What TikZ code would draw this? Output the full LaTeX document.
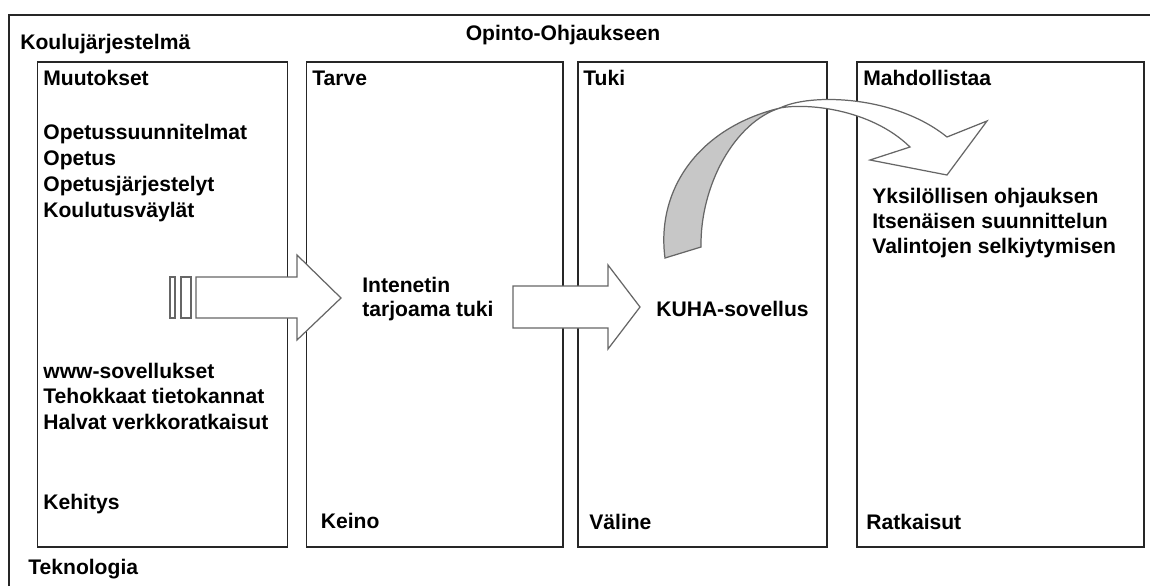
\documentclass[tikz,border=0pt]{standalone}
\usepackage{fontspec}
\setmainfont{Liberation Sans}
\begin{document}
\begin{tikzpicture}[x=0.02cm, y=-0.02cm,
  box/.style={draw=black!85, line width=0.8pt},
  txt/.style={font=\bfseries\fontsize{12}{14}\selectfont, anchor=base west, inner sep=0pt},
  blockarrow/.style={draw=black!60, line width=0.7pt, fill=white, line join=miter}]
  \useasboundingbox (0,0) rectangle (1150,586);

  % frame and columns
  \draw[box] (9,586) -- (9,15) -- (1150,15);
  \draw[box] (37.5,62) rectangle (287.5,547);
  \draw[box] (306.5,62) rectangle (563,547);
  \draw[box] (578,62) rectangle (827,547);
  \draw[box] (857,62) rectangle (1144,547);

  % frame labels
  \node[txt, anchor=base] (title) at (563,40) {Opinto-Ohjaukseen};
  \node[txt] (koulu) at (20,49) {Koulujärjestelmä};
  \node[txt] (tekno) at (28,574) {Teknologia};

  % first column
  \node[txt] (muutokset) at (43,85.5) {Muutokset};
  \foreach \t [count=\i] in {Opetussuunnitelmat, Opetus, Opetusjärjestelyt, Koulutusväylät}
    \node[txt] (opetus\i) at (43,113.1+26.2*\i) {\t};
  \foreach \t [count=\i] in {www-sovellukset, Tehokkaat tietokannat, Halvat verkkoratkaisut}
    \node[txt] (www\i) at (43,352.8+25.5*\i) {\t};
  \node[txt] (kehitys) at (43,509) {Kehitys};

  % second column
  \node[txt] (tarve) at (312,85.5) {Tarve};
  \node[txt] (keino) at (320.5,528.5) {Keino};
  \node[txt] (internet1) at (362,292) {Intenetin};
  \node[txt] (internet2) at (362,316) {tarjoama tuki};

  % third column
  \node[txt] (tuki) at (583,85.5) {Tuki};
  \node[txt] (valine) at (589,529) {Väline};
  \node[txt] (kuha) at (656,316.7) {KUHA-sovellus};

  % fourth column
  \node[txt] (mahd) at (863,85.5) {Mahdollistaa};
  \foreach \t [count=\i] in {Yksilöllisen ohjauksen, Itsenäisen suunnittelun, Valintojen selkiytymisen}
    \node[txt] (ratk\i) at (872,178.3+25*\i) {\t};
  \node[txt] (ratkaisut) at (866,529.5) {Ratkaisut};

  % striped arrow
  \filldraw[blockarrow] (170,277) rectangle (175,318);
  \filldraw[blockarrow] (181,277) rectangle (191,318);
  \filldraw[blockarrow] (196,277) -- (297,277) -- (297,255) -- (341,298)
    -- (297,340) -- (297,318) -- (196,318) -- cycle;

  % plain arrow
  \filldraw[blockarrow] (513,286) -- (608,286) -- (608,265) -- (640,307)
    -- (608,349) -- (608,328) -- (513,328) -- cycle;

  % curved arrow
  \filldraw[blockarrow, fill=black!22] (665,258) .. controls (656,190) and (698,128) .. (780,108)
    .. controls (735,122) and (700,185) .. (701,247) -- cycle;
  \filldraw[blockarrow] (780,108) .. controls (810,93) and (895,95) .. (947,137)
    -- (987,121) -- (947,175) -- (870,160) -- (910,147)
    .. controls (870,108) and (805,103) .. (780,108) -- cycle;
\end{tikzpicture}
\end{document}
